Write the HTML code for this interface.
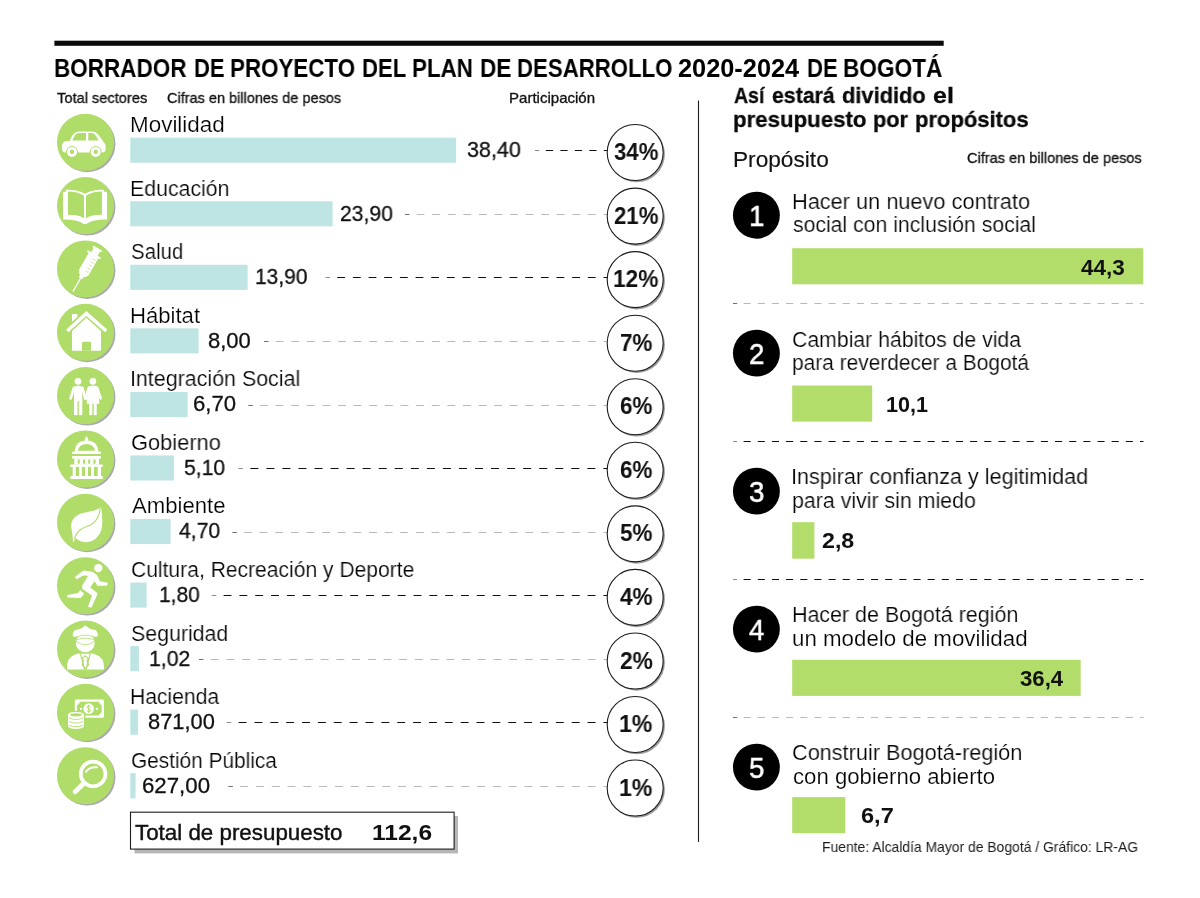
<!DOCTYPE html>
<html lang="es"><head><meta charset="utf-8"><title>Plan de Desarrollo Bogotá 2020-2024</title>
<style>
html,body{margin:0;padding:0;background:#fff}
body{width:1200px;height:898px;position:relative;overflow:hidden;font-family:"Liberation Sans",sans-serif}
.t{position:absolute;white-space:nowrap;line-height:32px;transform-origin:0 0;margin:0;will-change:transform}
#ov{position:absolute;left:0;top:0;width:1200px;height:898px}

</style></head><body>
<svg id="ov" viewBox="0 0 1200 898"><rect x="130.3" y="137.67" width="325.8" height="25.1" fill="#bee5e3"/>
<path fill="#8c8c8c" d="M535.00 150h4.22v1h-4.22z"/><path fill="#101010" d="M545.86 150h7.24v1h-7.24zM560.34 150h7.24v1h-7.24zM574.82 150h7.24v1h-7.24zM589.30 150h7.24v1h-7.24zM603.78 150h3.62v1h-3.62z"/>
<circle cx="636.70" cy="154.17" r="28.2" fill="#9b9b9b"/><circle cx="635.20" cy="152.57" r="28" fill="#fff" stroke="#1c1c1c" stroke-width="1.1"/>
<rect x="130.3" y="201.22" width="202.3" height="25.1" fill="#bee5e3"/>
<path fill="#707070" d="M405.00 214h4.49v1h-4.49z"/><path fill="#b9b9b9" d="M416.68 214h7.78v1h-7.78zM432.25 214h7.78v1h-7.78zM447.82 214h7.78v1h-7.78zM463.38 214h7.78v1h-7.78zM478.95 214h7.78v1h-7.78zM494.52 214h7.78v1h-7.78zM510.09 214h7.78v1h-7.78zM525.66 214h7.78v1h-7.78zM541.23 214h7.78v1h-7.78zM556.80 214h7.78v1h-7.78zM572.37 214h7.78v1h-7.78zM587.94 214h7.78v1h-7.78zM603.51 214h3.89v1h-3.89z"/>
<circle cx="636.70" cy="217.72" r="28.2" fill="#9b9b9b"/><circle cx="635.20" cy="216.12" r="28" fill="#fff" stroke="#1c1c1c" stroke-width="1.1"/>
<rect x="130.3" y="264.77" width="117.3" height="25.1" fill="#bee5e3"/>
<path fill="#8c8c8c" d="M325.50 277h4.52v1h-4.52z"/><path fill="#101010" d="M337.25 277h7.83v1h-7.83zM352.91 277h7.83v1h-7.83zM368.57 277h7.83v1h-7.83zM384.23 277h7.83v1h-7.83zM399.89 277h7.83v1h-7.83zM415.55 277h7.83v1h-7.83zM431.21 277h7.83v1h-7.83zM446.87 277h7.83v1h-7.83zM462.53 277h7.83v1h-7.83zM478.20 277h7.83v1h-7.83zM493.86 277h7.83v1h-7.83zM509.52 277h7.83v1h-7.83zM525.18 277h7.83v1h-7.83zM540.84 277h7.83v1h-7.83zM556.50 277h7.83v1h-7.83zM572.16 277h7.83v1h-7.83zM587.82 277h7.83v1h-7.83zM603.48 277h3.92v1h-3.92z"/>
<circle cx="636.70" cy="281.27" r="28.2" fill="#9b9b9b"/><circle cx="635.20" cy="279.67" r="28" fill="#fff" stroke="#1c1c1c" stroke-width="1.1"/>
<rect x="130.3" y="328.32" width="68.3" height="25.1" fill="#bee5e3"/>
<path fill="#707070" d="M264.00 341h4.50v1h-4.50z"/><path fill="#b9b9b9" d="M275.71 341h7.80v1h-7.80zM291.32 341h7.80v1h-7.80zM306.93 341h7.80v1h-7.80zM322.53 341h7.80v1h-7.80zM338.14 341h7.80v1h-7.80zM353.75 341h7.80v1h-7.80zM369.36 341h7.80v1h-7.80zM384.97 341h7.80v1h-7.80zM400.58 341h7.80v1h-7.80zM416.19 341h7.80v1h-7.80zM431.80 341h7.80v1h-7.80zM447.41 341h7.80v1h-7.80zM463.02 341h7.80v1h-7.80zM478.62 341h7.80v1h-7.80zM494.23 341h7.80v1h-7.80zM509.84 341h7.80v1h-7.80zM525.45 341h7.80v1h-7.80zM541.06 341h7.80v1h-7.80zM556.67 341h7.80v1h-7.80zM572.28 341h7.80v1h-7.80zM587.89 341h7.80v1h-7.80zM603.50 341h3.90v1h-3.90z"/>
<circle cx="636.70" cy="344.82" r="28.2" fill="#9b9b9b"/><circle cx="635.20" cy="343.22" r="28" fill="#fff" stroke="#1c1c1c" stroke-width="1.1"/>
<rect x="130.3" y="391.87" width="57.3" height="25.1" fill="#bee5e3"/>
<path fill="#707070" d="M248.30 405h4.50v1h-4.50z"/><path fill="#b9b9b9" d="M260.01 405h7.81v1h-7.81zM275.62 405h7.81v1h-7.81zM291.24 405h7.81v1h-7.81zM306.85 405h7.81v1h-7.81zM322.46 405h7.81v1h-7.81zM338.08 405h7.81v1h-7.81zM353.69 405h7.81v1h-7.81zM369.30 405h7.81v1h-7.81zM384.91 405h7.81v1h-7.81zM400.53 405h7.81v1h-7.81zM416.14 405h7.81v1h-7.81zM431.75 405h7.81v1h-7.81zM447.37 405h7.81v1h-7.81zM462.98 405h7.81v1h-7.81zM478.59 405h7.81v1h-7.81zM494.21 405h7.81v1h-7.81zM509.82 405h7.81v1h-7.81zM525.43 405h7.81v1h-7.81zM541.04 405h7.81v1h-7.81zM556.66 405h7.81v1h-7.81zM572.27 405h7.81v1h-7.81zM587.88 405h7.81v1h-7.81zM603.50 405h3.90v1h-3.90z"/>
<circle cx="636.70" cy="408.37" r="28.2" fill="#9b9b9b"/><circle cx="635.20" cy="406.77" r="28" fill="#fff" stroke="#1c1c1c" stroke-width="1.1"/>
<rect x="130.3" y="455.42" width="43.6" height="25.1" fill="#bee5e3"/>
<path fill="#8c8c8c" d="M238.30 468h4.61v1h-4.61z"/><path fill="#101010" d="M250.34 468h8.02v1h-8.02zM266.38 468h8.02v1h-8.02zM282.43 468h8.02v1h-8.02zM298.48 468h8.02v1h-8.02zM314.53 468h8.02v1h-8.02zM330.57 468h8.02v1h-8.02zM346.62 468h8.02v1h-8.02zM362.67 468h8.02v1h-8.02zM378.72 468h8.02v1h-8.02zM394.77 468h8.02v1h-8.02zM410.81 468h8.02v1h-8.02zM426.86 468h8.02v1h-8.02zM442.91 468h8.02v1h-8.02zM458.96 468h8.02v1h-8.02zM475.01 468h8.02v1h-8.02zM491.05 468h8.02v1h-8.02zM507.10 468h8.02v1h-8.02zM523.15 468h8.02v1h-8.02zM539.20 468h8.02v1h-8.02zM555.24 468h8.02v1h-8.02zM571.29 468h8.02v1h-8.02zM587.34 468h8.02v1h-8.02zM603.39 468h4.01v1h-4.01z"/>
<circle cx="636.70" cy="471.92" r="28.2" fill="#9b9b9b"/><circle cx="635.20" cy="470.32" r="28" fill="#fff" stroke="#1c1c1c" stroke-width="1.1"/>
<rect x="130.3" y="518.97" width="40.3" height="25.1" fill="#bee5e3"/>
<path fill="#707070" d="M232.30 532h4.51v1h-4.51z"/><path fill="#b9b9b9" d="M244.02 532h7.81v1h-7.81zM259.65 532h7.81v1h-7.81zM275.28 532h7.81v1h-7.81zM290.91 532h7.81v1h-7.81zM306.54 532h7.81v1h-7.81zM322.17 532h7.81v1h-7.81zM337.80 532h7.81v1h-7.81zM353.43 532h7.81v1h-7.81zM369.06 532h7.81v1h-7.81zM384.68 532h7.81v1h-7.81zM400.31 532h7.81v1h-7.81zM415.94 532h7.81v1h-7.81zM431.57 532h7.81v1h-7.81zM447.20 532h7.81v1h-7.81zM462.83 532h7.81v1h-7.81zM478.46 532h7.81v1h-7.81zM494.09 532h7.81v1h-7.81zM509.72 532h7.81v1h-7.81zM525.35 532h7.81v1h-7.81zM540.98 532h7.81v1h-7.81zM556.61 532h7.81v1h-7.81zM572.23 532h7.81v1h-7.81zM587.86 532h7.81v1h-7.81zM603.49 532h3.91v1h-3.91z"/>
<circle cx="636.70" cy="535.47" r="28.2" fill="#9b9b9b"/><circle cx="635.20" cy="533.87" r="28" fill="#fff" stroke="#1c1c1c" stroke-width="1.1"/>
<rect x="130.3" y="582.52" width="16.3" height="25.1" fill="#bee5e3"/>
<path fill="#8c8c8c" d="M211.70 595h4.56v1h-4.56z"/><path fill="#101010" d="M223.57 595h7.91v1h-7.91zM239.40 595h7.91v1h-7.91zM255.23 595h7.91v1h-7.91zM271.06 595h7.91v1h-7.91zM286.88 595h7.91v1h-7.91zM302.71 595h7.91v1h-7.91zM318.54 595h7.91v1h-7.91zM334.37 595h7.91v1h-7.91zM350.19 595h7.91v1h-7.91zM366.02 595h7.91v1h-7.91zM381.85 595h7.91v1h-7.91zM397.68 595h7.91v1h-7.91zM413.51 595h7.91v1h-7.91zM429.33 595h7.91v1h-7.91zM445.16 595h7.91v1h-7.91zM460.99 595h7.91v1h-7.91zM476.82 595h7.91v1h-7.91zM492.65 595h7.91v1h-7.91zM508.48 595h7.91v1h-7.91zM524.30 595h7.91v1h-7.91zM540.13 595h7.91v1h-7.91zM555.96 595h7.91v1h-7.91zM571.79 595h7.91v1h-7.91zM587.61 595h7.91v1h-7.91zM603.44 595h3.96v1h-3.96z"/>
<circle cx="636.70" cy="599.02" r="28.2" fill="#9b9b9b"/><circle cx="635.20" cy="597.42" r="28" fill="#fff" stroke="#1c1c1c" stroke-width="1.1"/>
<rect x="130.3" y="646.07" width="8.6" height="25.1" fill="#bee5e3"/>
<path fill="#707070" d="M199.00 659h4.53v1h-4.53z"/><path fill="#b9b9b9" d="M210.78 659h7.85v1h-7.85zM226.49 659h7.85v1h-7.85zM242.20 659h7.85v1h-7.85zM257.90 659h7.85v1h-7.85zM273.61 659h7.85v1h-7.85zM289.32 659h7.85v1h-7.85zM305.03 659h7.85v1h-7.85zM320.73 659h7.85v1h-7.85zM336.44 659h7.85v1h-7.85zM352.15 659h7.85v1h-7.85zM367.86 659h7.85v1h-7.85zM383.57 659h7.85v1h-7.85zM399.27 659h7.85v1h-7.85zM414.98 659h7.85v1h-7.85zM430.69 659h7.85v1h-7.85zM446.40 659h7.85v1h-7.85zM462.10 659h7.85v1h-7.85zM477.81 659h7.85v1h-7.85zM493.52 659h7.85v1h-7.85zM509.23 659h7.85v1h-7.85zM524.93 659h7.85v1h-7.85zM540.64 659h7.85v1h-7.85zM556.35 659h7.85v1h-7.85zM572.06 659h7.85v1h-7.85zM587.77 659h7.85v1h-7.85zM603.47 659h3.93v1h-3.93z"/>
<circle cx="636.70" cy="662.57" r="28.2" fill="#9b9b9b"/><circle cx="635.20" cy="660.97" r="28" fill="#fff" stroke="#1c1c1c" stroke-width="1.1"/>
<rect x="130.3" y="709.62" width="7.8" height="25.1" fill="#bee5e3"/>
<path fill="#8c8c8c" d="M226.70 722h4.57v1h-4.57z"/><path fill="#101010" d="M238.60 722h7.93v1h-7.93zM254.46 722h7.93v1h-7.93zM270.32 722h7.93v1h-7.93zM286.18 722h7.93v1h-7.93zM302.05 722h7.93v1h-7.93zM317.91 722h7.93v1h-7.93zM333.77 722h7.93v1h-7.93zM349.63 722h7.93v1h-7.93zM365.50 722h7.93v1h-7.93zM381.36 722h7.93v1h-7.93zM397.22 722h7.93v1h-7.93zM413.08 722h7.93v1h-7.93zM428.95 722h7.93v1h-7.93zM444.81 722h7.93v1h-7.93zM460.67 722h7.93v1h-7.93zM476.53 722h7.93v1h-7.93zM492.40 722h7.93v1h-7.93zM508.26 722h7.93v1h-7.93zM524.12 722h7.93v1h-7.93zM539.98 722h7.93v1h-7.93zM555.85 722h7.93v1h-7.93zM571.71 722h7.93v1h-7.93zM587.57 722h7.93v1h-7.93zM603.43 722h3.97v1h-3.97z"/>
<circle cx="636.70" cy="726.12" r="28.2" fill="#9b9b9b"/><circle cx="635.20" cy="724.52" r="28" fill="#fff" stroke="#1c1c1c" stroke-width="1.1"/>
<rect x="130.3" y="773.17" width="5.3" height="25.1" fill="#bee5e3"/>
<path fill="#707070" d="M228.30 786h4.55v1h-4.55z"/><path fill="#b9b9b9" d="M240.15 786h7.90v1h-7.90zM255.94 786h7.90v1h-7.90zM271.74 786h7.90v1h-7.90zM287.53 786h7.90v1h-7.90zM303.33 786h7.90v1h-7.90zM319.13 786h7.90v1h-7.90zM334.92 786h7.90v1h-7.90zM350.72 786h7.90v1h-7.90zM366.51 786h7.90v1h-7.90zM382.31 786h7.90v1h-7.90zM398.11 786h7.90v1h-7.90zM413.90 786h7.90v1h-7.90zM429.70 786h7.90v1h-7.90zM445.49 786h7.90v1h-7.90zM461.29 786h7.90v1h-7.90zM477.08 786h7.90v1h-7.90zM492.88 786h7.90v1h-7.90zM508.68 786h7.90v1h-7.90zM524.47 786h7.90v1h-7.90zM540.27 786h7.90v1h-7.90zM556.06 786h7.90v1h-7.90zM571.86 786h7.90v1h-7.90zM587.66 786h7.90v1h-7.90zM603.45 786h3.95v1h-3.95z"/>
<circle cx="636.70" cy="789.67" r="28.2" fill="#9b9b9b"/><circle cx="635.20" cy="788.07" r="28" fill="#fff" stroke="#1c1c1c" stroke-width="1.1"/>
<circle cx="756.4" cy="215.20" r="23.45" fill="#000"/>
<rect x="792.2" y="248.20" width="351.1" height="36.10" fill="#b2dd6b"/>
<path fill="#707070" d="M733.00 303h4.14v1h-4.14z"/><path fill="#b9b9b9" d="M743.62 303h7.08v1h-7.08zM757.77 303h7.08v1h-7.08zM771.93 303h7.08v1h-7.08zM786.08 303h7.08v1h-7.08zM800.24 303h7.08v1h-7.08zM814.39 303h7.08v1h-7.08zM828.55 303h7.08v1h-7.08zM842.70 303h7.08v1h-7.08zM856.86 303h7.08v1h-7.08zM871.01 303h7.08v1h-7.08zM885.17 303h7.08v1h-7.08zM899.32 303h7.08v1h-7.08zM913.48 303h7.08v1h-7.08zM927.63 303h7.08v1h-7.08zM941.79 303h7.08v1h-7.08zM955.94 303h7.08v1h-7.08zM970.10 303h7.08v1h-7.08zM984.25 303h7.08v1h-7.08zM998.41 303h7.08v1h-7.08zM1012.56 303h7.08v1h-7.08zM1026.72 303h7.08v1h-7.08zM1040.88 303h7.08v1h-7.08zM1055.03 303h7.08v1h-7.08zM1069.19 303h7.08v1h-7.08zM1083.34 303h7.08v1h-7.08zM1097.50 303h7.08v1h-7.08zM1111.65 303h7.08v1h-7.08zM1125.81 303h7.08v1h-7.08zM1139.96 303h3.54v1h-3.54z"/>
<circle cx="756.4" cy="353.16" r="23.45" fill="#000"/>
<rect x="792.2" y="385.50" width="80.0" height="36.10" fill="#b2dd6b"/>
<path fill="#8c8c8c" d="M733.00 441h4.14v1h-4.14z"/><path fill="#101010" d="M743.62 441h7.08v1h-7.08zM757.77 441h7.08v1h-7.08zM771.93 441h7.08v1h-7.08zM786.08 441h7.08v1h-7.08zM800.24 441h7.08v1h-7.08zM814.39 441h7.08v1h-7.08zM828.55 441h7.08v1h-7.08zM842.70 441h7.08v1h-7.08zM856.86 441h7.08v1h-7.08zM871.01 441h7.08v1h-7.08zM885.17 441h7.08v1h-7.08zM899.32 441h7.08v1h-7.08zM913.48 441h7.08v1h-7.08zM927.63 441h7.08v1h-7.08zM941.79 441h7.08v1h-7.08zM955.94 441h7.08v1h-7.08zM970.10 441h7.08v1h-7.08zM984.25 441h7.08v1h-7.08zM998.41 441h7.08v1h-7.08zM1012.56 441h7.08v1h-7.08zM1026.72 441h7.08v1h-7.08zM1040.88 441h7.08v1h-7.08zM1055.03 441h7.08v1h-7.08zM1069.19 441h7.08v1h-7.08zM1083.34 441h7.08v1h-7.08zM1097.50 441h7.08v1h-7.08zM1111.65 441h7.08v1h-7.08zM1125.81 441h7.08v1h-7.08zM1139.96 441h3.54v1h-3.54z"/>
<circle cx="756.4" cy="491.16" r="23.45" fill="#000"/>
<rect x="792.2" y="522.20" width="22.2" height="36.50" fill="#b2dd6b"/>
<path fill="#8c8c8c" d="M733.00 579h4.14v1h-4.14z"/><path fill="#101010" d="M743.62 579h7.08v1h-7.08zM757.77 579h7.08v1h-7.08zM771.93 579h7.08v1h-7.08zM786.08 579h7.08v1h-7.08zM800.24 579h7.08v1h-7.08zM814.39 579h7.08v1h-7.08zM828.55 579h7.08v1h-7.08zM842.70 579h7.08v1h-7.08zM856.86 579h7.08v1h-7.08zM871.01 579h7.08v1h-7.08zM885.17 579h7.08v1h-7.08zM899.32 579h7.08v1h-7.08zM913.48 579h7.08v1h-7.08zM927.63 579h7.08v1h-7.08zM941.79 579h7.08v1h-7.08zM955.94 579h7.08v1h-7.08zM970.10 579h7.08v1h-7.08zM984.25 579h7.08v1h-7.08zM998.41 579h7.08v1h-7.08zM1012.56 579h7.08v1h-7.08zM1026.72 579h7.08v1h-7.08zM1040.88 579h7.08v1h-7.08zM1055.03 579h7.08v1h-7.08zM1069.19 579h7.08v1h-7.08zM1083.34 579h7.08v1h-7.08zM1097.50 579h7.08v1h-7.08zM1111.65 579h7.08v1h-7.08zM1125.81 579h7.08v1h-7.08zM1139.96 579h3.54v1h-3.54z"/>
<circle cx="756.4" cy="629.10" r="23.45" fill="#000"/>
<rect x="792.2" y="659.80" width="288.5" height="36.10" fill="#b2dd6b"/>
<path fill="#707070" d="M733.00 717h4.14v1h-4.14z"/><path fill="#b9b9b9" d="M743.62 717h7.08v1h-7.08zM757.77 717h7.08v1h-7.08zM771.93 717h7.08v1h-7.08zM786.08 717h7.08v1h-7.08zM800.24 717h7.08v1h-7.08zM814.39 717h7.08v1h-7.08zM828.55 717h7.08v1h-7.08zM842.70 717h7.08v1h-7.08zM856.86 717h7.08v1h-7.08zM871.01 717h7.08v1h-7.08zM885.17 717h7.08v1h-7.08zM899.32 717h7.08v1h-7.08zM913.48 717h7.08v1h-7.08zM927.63 717h7.08v1h-7.08zM941.79 717h7.08v1h-7.08zM955.94 717h7.08v1h-7.08zM970.10 717h7.08v1h-7.08zM984.25 717h7.08v1h-7.08zM998.41 717h7.08v1h-7.08zM1012.56 717h7.08v1h-7.08zM1026.72 717h7.08v1h-7.08zM1040.88 717h7.08v1h-7.08zM1055.03 717h7.08v1h-7.08zM1069.19 717h7.08v1h-7.08zM1083.34 717h7.08v1h-7.08zM1097.50 717h7.08v1h-7.08zM1111.65 717h7.08v1h-7.08zM1125.81 717h7.08v1h-7.08zM1139.96 717h3.54v1h-3.54z"/>
<circle cx="756.4" cy="767.10" r="23.45" fill="#000"/>
<rect x="792.2" y="797.10" width="53.1" height="36.10" fill="#b2dd6b"/>
<rect x="54.4" y="40.7" width="889.3" height="5.1" fill="#0a0a0a"/>
<rect x="134.5" y="816" width="323.5" height="37.4" fill="#b7b7b7"/><rect x="130.5" y="812.2" width="323.6" height="36.9" fill="#fff" stroke="#1c1c1c" stroke-width="1.1"/>
<line x1="698.5" y1="100.5" x2="698.5" y2="842" stroke="#1c1c1c" stroke-width="1.1"/>
<g transform="translate(57 113.80)"><circle cx="30.15" cy="30.1" r="28.3" fill="#a9a9ae"/><circle cx="28.5" cy="28.5" r="28.55" fill="#b0dc6a"/><path fill="#fff" d="M5 33Q5 27.6 9.5 27.3L12.7 27.1Q15 21 18 19Q20 17.6 23 17.6H34.5Q38 17.6 40.5 20Q43.5 23.5 46.3 27.8Q48.7 30 48.7 33.5V35Q48.7 38.8 45 38.8H8.5Q5 38.8 5 35Z"/>
<path fill="#b0dc6a" d="M15.3 26.8Q17.5 21.5 19.5 20Q20.8 19.1 22.5 19.1H29V26.8ZM31.3 19.1H34.5Q36.8 19.2 38.3 21.3Q40.3 24 41.7 26.8H31.3Z"/>
<circle cx="15" cy="38.1" r="6" fill="#b0dc6a"/><circle cx="15" cy="38.1" r="5" fill="#fff"/><circle cx="15" cy="38.1" r="2.15" fill="#b0dc6a"/>
<circle cx="38.7" cy="38.1" r="6" fill="#b0dc6a"/><circle cx="38.7" cy="38.1" r="5" fill="#fff"/><circle cx="38.7" cy="38.1" r="2.15" fill="#b0dc6a"/></g>
<g transform="translate(57 177.14)"><circle cx="30.15" cy="30.1" r="28.3" fill="#a9a9ae"/><circle cx="28.5" cy="28.5" r="28.55" fill="#b0dc6a"/><path fill="#fff" d="M6 14.7H9V12.7Q21 12.4 28 16.7Q35 12.4 46.7 12.7V14.7H50V42.4Q36 42.2 30.2 46.3Q28 47.8 25.8 46.3Q20 42.2 6 42.4Z"/>
<path fill="#b0dc6a" d="M11 14.4Q21 14.4 27 18.7V41Q21 37.6 11 37.7ZM44.9 14.4Q35 14.4 29 18.7V41Q35 37.6 44.9 37.7Z"/></g>
<g transform="translate(57 240.48)"><circle cx="30.15" cy="30.1" r="28.3" fill="#a9a9ae"/><circle cx="28.5" cy="28.5" r="28.55" fill="#b0dc6a"/><g transform="translate(16 51) rotate(29.7)" fill="#fff">
<rect x="-0.7" y="-17" width="1.4" height="17"/>
<rect x="-2.1" y="-19" width="4.2" height="3.6"/>
<path d="M-5.5 -41.8H5.5V-21.5L3.4 -18.3H-3.4L-5.5 -21.5Z"/>
<rect x="-7.6" y="-43.2" width="15.2" height="1.9" rx=".5"/>
<rect x="-3.7" y="-48.6" width="7.4" height="6"/>
<rect x="-5.2" y="-50" width="10.4" height="1.8" rx=".5"/>
<g stroke="#b0dc6a" stroke-width=".75" opacity=".85"><path d="M1 -24H4.2M1 -27.5H4.2M1 -31H4.2M1 -34.5H4.2M1 -38H4.2"/></g>
</g></g>
<g transform="translate(57 303.82)"><circle cx="30.15" cy="30.1" r="28.3" fill="#a9a9ae"/><circle cx="28.5" cy="28.5" r="28.55" fill="#b0dc6a"/><path fill="#fff" d="M29.3 7.2L50.4 25.9L48.2 28.5L29.3 12.1L11.4 28.5L9 25.9Z"/>
<path fill="#fff" d="M29.3 13.9L44 27.3V46.3Q44 46.9 43.4 46.9H15.6Q15 46.9 15 46.3V27.3Z"/>
<path fill="#b0dc6a" d="M25 46.9V39.2Q25 37.9 26.3 37.9H32.7Q34 37.9 34 39.2V46.9Z"/>
<path fill="#fff" d="M15 10.2H20.3V13.1L15 17.9Z"/></g>
<g transform="translate(57 367.16)"><circle cx="30.15" cy="30.1" r="28.3" fill="#a9a9ae"/><circle cx="28.5" cy="28.5" r="28.55" fill="#b0dc6a"/><g fill="#fff" stroke="#fff" stroke-linecap="round">
<circle cx="21" cy="14.2" r="3.35" stroke="none"/><circle cx="35.9" cy="14.2" r="3.35" stroke="none"/>
<path stroke="none" d="M17 22.2Q17 18.7 20.2 18.7H22Q25.3 18.7 25.3 22.2V34H17Z"/>
<rect stroke="none" x="17" y="33" width="3.5" height="15"/><rect stroke="none" x="21.8" y="33" width="3.5" height="15"/>
<path fill="none" stroke-width="2.7" d="M17 20.6L13.6 31.2M25.4 20.6L28.3 31.6"/>
<path stroke="none" d="M33.6 18.7H38.4Q40.6 18.7 41 21L42.4 36.7H29.6L31 21Q31.4 18.7 33.6 18.7Z"/>
<rect stroke="none" x="32.3" y="36" width="3" height="12"/><rect stroke="none" x="36.7" y="36" width="3" height="12"/>
<path fill="none" stroke-width="2.5" d="M40.3 20.6L43.6 31.2M31.6 20.6L28.4 31.6"/>
</g></g>
<g transform="translate(57 430.50)"><circle cx="30.15" cy="30.1" r="28.3" fill="#a9a9ae"/><circle cx="28.5" cy="28.5" r="28.55" fill="#b0dc6a"/><g fill="#fff">
<path d="M29.5 5.3Q31.5 8.2 31.2 10.5H27.8Q27.5 8.2 29.5 5.3Z"/>
<path d="M17.6 21.3Q18.4 9.9 29.5 9.9Q40.6 9.9 41.4 21.3Z"/>
<path fill="#b0dc6a" d="M21 20.3Q22.2 13.5 29.5 13.5Q36.8 13.5 38 20.3Z"/>
<rect x="15" y="20.9" width="29" height="2.7" rx="1.3"/>
<rect x="15" y="25.5" width="29" height="2.8" rx="1.3"/>
<rect x="17.3" y="28" width="24.7" height="6.2"/>
<g fill="#b0dc6a"><rect x="20.7" y="29" width="2" height="4.2"/><rect x="26" y="29" width="2" height="4.2"/><rect x="31.2" y="29" width="2" height="4.2"/><rect x="36.4" y="29" width="2.2" height="4.2"/></g>
<rect x="13" y="33.9" width="33" height="2.5" rx="1.2"/>
<rect x="15.7" y="36" width="28.3" height="10"/>
<g fill="#b0dc6a"><rect x="18.7" y="36.4" width="3.3" height="9.1"/><rect x="25" y="36.4" width="3" height="9.1"/><rect x="31" y="36.4" width="3" height="9.1"/><rect x="37" y="36.4" width="3.6" height="9.1"/></g>
<rect x="13" y="45.5" width="33" height="3" rx="1.4"/>
</g></g>
<g transform="translate(57 493.84)"><circle cx="30.15" cy="30.1" r="28.3" fill="#a9a9ae"/><circle cx="28.5" cy="28.5" r="28.55" fill="#b0dc6a"/><path fill="#fff" d="M44 13.1C40 17 30 18 24 19.6C17 22 13.5 28 14.3 33.5C14.6 37 15.6 40.5 15.7 44L16 48.8L18.7 44.3C22 47 26 48.5 30.3 48.3C36 48 41 44 43.7 38C46 32 45.5 22 44 13.1Z"/>
<path fill="none" stroke="#b0dc6a" stroke-width="1.1" d="M43.4 14C42.6 22 40 28 33 31.3C26 34 19.5 36 17.6 45.6"/></g>
<g transform="translate(57 557.18)"><circle cx="30.15" cy="30.1" r="28.3" fill="#a9a9ae"/><circle cx="28.5" cy="28.5" r="28.55" fill="#b0dc6a"/><g fill="#fff" stroke="#fff" stroke-width="1.6" stroke-linejoin="round">
<circle cx="41.3" cy="10.9" r="3.4"/>
<path d="M19 20L26.6 14.2L35.4 15.4L39.7 18.8L42.5 24.9L49.8 26.2L49.6 27.8L40.8 27.7L37.6 22.6L32.2 30.4L39.8 36.5L34 49.6L31.9 49L36 38.2L26 31.2L26 28.5L32.5 18.1L26.4 17.4L20 20.9Z"/>
<path d="M10.8 38.6L21.3 36.7L23.4 34L26 36.7L23.3 40L11.2 39.6Z"/>
</g></g>
<g transform="translate(57 620.52)"><circle cx="30.15" cy="30.1" r="28.3" fill="#a9a9ae"/><circle cx="28.5" cy="28.5" r="28.55" fill="#b0dc6a"/><g fill="#fff">
<circle cx="28.3" cy="22.4" r="9.4"/>
<path d="M28.3 5C29.5 5.3 31 7.6 34 8.6C37 9.4 39 9.4 40 11.2C41.3 13 40.9 15.5 40 16.3H16.6C15.7 15.5 15.3 13 16.6 11.2C17.6 9.4 19.6 9.4 22.6 8.6C25.6 7.6 27.1 5.3 28.3 5Z"/>
<path d="M21 33Q24 33.2 28.3 33.2Q32.6 33.2 35.7 33Q45 35.5 46.4 42Q47 45 47 49H10Q10 45 10.6 42Q12 35.5 21 33Z"/>
<g fill="none" stroke="#b0dc6a" stroke-width=".8">
<path d="M18.6 16.9Q28.3 12.4 38 16.9"/><path d="M19.8 19.3Q28.3 15.9 36.8 19.3"/>
<path d="M19.2 20.8Q28.3 27.8 37.4 20.8"/>
<path d="M23.4 33.4L27.6 49M33.2 33.4L29 49" stroke-width="1.15"/>
<path d="M28.3 35.3L31.4 37.8L30.1 40L31.5 44.2L28.3 48.4L25.1 44.2L26.5 40L25.2 37.8Z" stroke-width="1.1"/>
</g></g></g>
<g transform="translate(57 683.86)"><circle cx="30.15" cy="30.1" r="28.3" fill="#a9a9ae"/><circle cx="28.5" cy="28.5" r="28.55" fill="#b0dc6a"/><g fill="#fff">
<rect x="17.8" y="15.7" width="29.1" height="18.3" rx="1.4"/>
<path fill="#b0dc6a" d="M22.6 18H42.2V19.6H43.6V21.2H44.7V28.6H43.6V30.2H42.2V31.7H22.6V30.2H21.2V28.6H20V21.2H21.2V19.6H22.6Z"/>
<circle cx="31.7" cy="24.8" r="5.3"/><circle cx="24" cy="25" r="1.15"/><circle cx="40" cy="25" r="1.15"/>
<path fill="none" stroke="#b0dc6a" stroke-width=".95" d="M33.3 23.3Q33 21.9 31.7 21.9Q30 21.9 30 23.3Q30 24.4 31.7 24.8Q33.5 25.2 33.5 26.5Q33.5 27.9 31.7 27.9Q30.2 27.9 29.9 26.5M31.7 20.9V28.9"/>
<path fill="#b0dc6a" d="M9.8 31Q9.8 27 19 27Q28.2 27 28.2 31V42Q28.2 46.3 19 46.3Q9.8 46.3 9.8 42Z"/>
<path d="M11 31Q11 28.2 19 28.2Q27 28.2 27 31V42Q27 45.1 19 45.1Q11 45.1 11 42Z"/>
<ellipse cx="19" cy="31" rx="6" ry="1.55" fill="#b0dc6a"/>
<g fill="none" stroke="#b0dc6a" stroke-width=".85"><path d="M11.8 34Q19 37.3 26.2 34"/><path d="M11.8 37.6Q19 40.9 26.2 37.6"/><path d="M11.8 41.2Q19 44.5 26.2 41.2"/></g>
</g></g>
<g transform="translate(57 747.20)"><circle cx="30.15" cy="30.1" r="28.3" fill="#a9a9ae"/><circle cx="28.5" cy="28.5" r="28.55" fill="#b0dc6a"/><g fill="none" stroke="#fff" stroke-linecap="round">
<circle cx="36.1" cy="26.7" r="12.35" stroke-width="3.7"/>
<path stroke-width="4.9" d="M26.6 36.2L18.1 44.5"/>
<path stroke-width="2" d="M29.1 24.4Q32.6 19.3 39.8 20.1"/>
</g></g></svg>
<span class="t" id="t0" style="left:54.14px;top:52px;font-size:25px;transform:scaleX(0.9000);color:#000;font-weight:700">BORRADOR</span>
<span class="t" id="t1" style="left:194.08px;top:52px;font-size:25px;transform:scaleX(0.8805);color:#000;font-weight:700">DE</span>
<span class="t" id="t2" style="left:230.21px;top:52px;font-size:25px;transform:scaleX(0.8943);color:#000;font-weight:700">PROYECTO</span>
<span class="t" id="t3" style="left:361.73px;top:52px;font-size:25px;transform:scaleX(0.8855);color:#000;font-weight:700">DEL</span>
<span class="t" id="t4" style="left:412.01px;top:52px;font-size:25px;transform:scaleX(0.8939);color:#000;font-weight:700">PLAN</span>
<span class="t" id="t5" style="left:480.35px;top:52px;font-size:25px;transform:scaleX(0.9044);color:#000;font-weight:700">DE</span>
<span class="t" id="t6" style="left:517.43px;top:52px;font-size:25px;transform:scaleX(0.8884);color:#000;font-weight:700">DESARROLLO</span>
<span class="t" id="t7" style="left:678.49px;top:52px;font-size:25px;transform:scaleX(1.0134);color:#000;font-weight:700">2020-2024</span>
<span class="t" id="t8" style="left:806.73px;top:52px;font-size:25px;transform:scaleX(0.8872);color:#000;font-weight:700">DE</span>
<span class="t" id="t9" style="left:843.10px;top:52px;font-size:25px;transform:scaleX(0.9046);color:#000;font-weight:700">BOGOTÁ</span>
<span class="t" id="t10" style="left:57.07px;top:82px;font-size:14.8px;transform:scaleX(0.9884);color:#111;-webkit-text-stroke:0.32px #111">Total sectores</span>
<span class="t" id="t11" style="left:166.75px;top:82px;font-size:14.8px;transform:scaleX(0.9800);color:#111;-webkit-text-stroke:0.32px #111">Cifras en billones de pesos</span>
<span class="t" id="t12" style="left:508.70px;top:82px;font-size:14.8px;transform:scaleX(1.0161);color:#111;-webkit-text-stroke:0.32px #111">Participación</span>
<span class="t" id="t13" style="left:130.43px;top:109px;font-size:22px;transform:scaleX(1.0198);color:#000;-webkit-text-stroke:0.2px #fff">Movilidad</span>
<span class="t" id="t14" style="left:466.57px;top:134px;font-size:21.8px;transform:scaleX(0.9867);color:#111;-webkit-text-stroke:0.3px #111">38,40</span>
<span class="t" id="t15" style="left:613.80px;top:136px;font-size:23.6px;transform:scaleX(0.9412);color:#111;font-weight:700">34%</span>
<span class="t" id="t16" style="left:130.12px;top:173px;font-size:22px;transform:scaleX(0.9674);color:#000;-webkit-text-stroke:0.2px #fff">Educación</span>
<span class="t" id="t17" style="left:339.97px;top:198px;font-size:21.8px;transform:scaleX(0.9697);color:#111;-webkit-text-stroke:0.3px #111">23,90</span>
<span class="t" id="t18" style="left:613.75px;top:200px;font-size:23.6px;transform:scaleX(0.9423);color:#111;font-weight:700">21%</span>
<span class="t" id="t19" style="left:130.59px;top:236px;font-size:22px;transform:scaleX(0.9304);color:#000;-webkit-text-stroke:0.2px #fff">Salud</span>
<span class="t" id="t20" style="left:254.74px;top:261px;font-size:21.8px;transform:scaleX(0.9615);color:#111;-webkit-text-stroke:0.3px #111">13,90</span>
<span class="t" id="t21" style="left:613.12px;top:263px;font-size:23.6px;transform:scaleX(0.9619);color:#111;font-weight:700">12%</span>
<span class="t" id="t22" style="left:130.04px;top:300px;font-size:22px;transform:scaleX(1.0050);color:#000;-webkit-text-stroke:0.2px #fff">Hábitat</span>
<span class="t" id="t23" style="left:207.68px;top:325px;font-size:21.8px;transform:scaleX(1.0087);color:#111;-webkit-text-stroke:0.3px #111">8,00</span>
<span class="t" id="t24" style="left:619.60px;top:327px;font-size:23.6px;transform:scaleX(0.9510);color:#111;font-weight:700">7%</span>
<span class="t" id="t25" style="left:130.23px;top:363px;font-size:22px;transform:scaleX(0.9735);color:#000;-webkit-text-stroke:0.2px #fff">Integración Social</span>
<span class="t" id="t26" style="left:192.89px;top:388px;font-size:21.8px;transform:scaleX(1.0144);color:#111;-webkit-text-stroke:0.3px #111">6,70</span>
<span class="t" id="t27" style="left:619.53px;top:390px;font-size:23.6px;transform:scaleX(0.9523);color:#111;font-weight:700">6%</span>
<span class="t" id="t28" style="left:130.72px;top:427px;font-size:22px;transform:scaleX(0.9933);color:#000;-webkit-text-stroke:0.2px #fff">Gobierno</span>
<span class="t" id="t29" style="left:183.93px;top:452px;font-size:21.8px;transform:scaleX(0.9693);color:#111;-webkit-text-stroke:0.3px #111">5,10</span>
<span class="t" id="t30" style="left:619.53px;top:454px;font-size:23.6px;transform:scaleX(0.9523);color:#111;font-weight:700">6%</span>
<span class="t" id="t31" style="left:131.79px;top:490px;font-size:22px;transform:scaleX(1.0067);color:#000;-webkit-text-stroke:0.2px #fff">Ambiente</span>
<span class="t" id="t32" style="left:178.73px;top:515px;font-size:21.8px;transform:scaleX(0.9705);color:#111;-webkit-text-stroke:0.3px #111">4,70</span>
<span class="t" id="t33" style="left:619.50px;top:517px;font-size:23.6px;transform:scaleX(0.9534);color:#111;font-weight:700">5%</span>
<span class="t" id="t34" style="left:131.01px;top:554px;font-size:22px;transform:scaleX(0.9574);color:#000;-webkit-text-stroke:0.2px #fff">Cultura, Recreación y Deporte</span>
<span class="t" id="t35" style="left:159.10px;top:579px;font-size:21.8px;transform:scaleX(0.9617);color:#111;-webkit-text-stroke:0.3px #111">1,80</span>
<span class="t" id="t36" style="left:620.22px;top:581px;font-size:23.6px;transform:scaleX(0.9570);color:#111;font-weight:700">4%</span>
<span class="t" id="t37" style="left:130.99px;top:618px;font-size:22px;transform:scaleX(0.9701);color:#000;-webkit-text-stroke:0.2px #fff">Seguridad</span>
<span class="t" id="t38" style="left:148.73px;top:643px;font-size:21.8px;transform:scaleX(0.9732);color:#111;-webkit-text-stroke:0.3px #111">1,02</span>
<span class="t" id="t39" style="left:620.00px;top:645px;font-size:23.6px;transform:scaleX(0.9656);color:#111;font-weight:700">2%</span>
<span class="t" id="t40" style="left:130.24px;top:681px;font-size:22px;transform:scaleX(0.9586);color:#000;-webkit-text-stroke:0.2px #fff">Hacienda</span>
<span class="t" id="t41" style="left:147.92px;top:706px;font-size:21.8px;transform:scaleX(1.0023);color:#111;-webkit-text-stroke:0.3px #111">871,00</span>
<span class="t" id="t42" style="left:619.01px;top:708px;font-size:23.6px;transform:scaleX(0.9805);color:#111;font-weight:700">1%</span>
<span class="t" id="t43" style="left:131.04px;top:745px;font-size:22px;transform:scaleX(0.9472);color:#000;-webkit-text-stroke:0.2px #fff">Gestión Pública</span>
<span class="t" id="t44" style="left:142.10px;top:770px;font-size:21.8px;transform:scaleX(1.0207);color:#111;-webkit-text-stroke:0.3px #111">627,00</span>
<span class="t" id="t45" style="left:619.01px;top:772px;font-size:23.6px;transform:scaleX(0.9805);color:#111;font-weight:700">1%</span>
<span class="t" id="t46" style="left:135.06px;top:817px;font-size:21.6px;transform:scaleX(1.0350);color:#111;-webkit-text-stroke:0.4px #111">Total de presupuesto</span>
<span class="t" id="t47" style="left:372.32px;top:817px;font-size:21.6px;transform:scaleX(1.1361);color:#111;font-weight:700">112,6</span>
<span class="t" id="t48" style="left:733.83px;top:80px;font-size:22.6px;transform:scaleX(0.8639);color:#0a0a0a;font-weight:700;-webkit-text-stroke:0.3px #0a0a0a">Así</span>
<span class="t" id="t49" style="left:772.28px;top:80px;font-size:22.6px;transform:scaleX(0.9417);color:#0a0a0a;font-weight:700;-webkit-text-stroke:0.3px #0a0a0a">estará</span>
<span class="t" id="t50" style="left:841.84px;top:80px;font-size:22.6px;transform:scaleX(0.9663);color:#0a0a0a;font-weight:700;-webkit-text-stroke:0.3px #0a0a0a">dividido</span>
<span class="t" id="t51" style="left:933.18px;top:80px;font-size:22.6px;transform:scaleX(1.1053);color:#0a0a0a;font-weight:700;-webkit-text-stroke:0.3px #0a0a0a">el</span>
<span class="t" id="t52" style="left:733.39px;top:104px;font-size:22.6px;transform:scaleX(0.9843);color:#0a0a0a;font-weight:700;-webkit-text-stroke:0.3px #0a0a0a">presupuesto</span>
<span class="t" id="t53" style="left:873.29px;top:104px;font-size:22.6px;transform:scaleX(0.9627);color:#0a0a0a;font-weight:700;-webkit-text-stroke:0.3px #0a0a0a">por</span>
<span class="t" id="t54" style="left:914.73px;top:104px;font-size:22.6px;transform:scaleX(0.9734);color:#0a0a0a;font-weight:700;-webkit-text-stroke:0.3px #0a0a0a">propósitos</span>
<span class="t" id="t55" style="left:733.34px;top:144px;font-size:21.6px;transform:scaleX(1.0495);color:#111;-webkit-text-stroke:0.15px #111">Propósito</span>
<span class="t" id="t56" style="left:966.60px;top:142px;font-size:14.8px;transform:scaleX(0.9835);color:#111;-webkit-text-stroke:0.32px #111">Cifras en billones de pesos</span>
<span class="t" id="t57" style="left:748.73px;top:200px;font-size:30px;transform:scaleX(0.9200);color:#fff;-webkit-text-stroke:0.5px #fff">1</span>
<span class="t" id="t58" style="left:791.55px;top:186px;font-size:22px;transform:scaleX(0.9884);color:#000;-webkit-text-stroke:0.2px #fff">Hacer un nuevo contrato</span>
<span class="t" id="t59" style="left:792.60px;top:209px;font-size:22px;transform:scaleX(0.9644);color:#000;-webkit-text-stroke:0.2px #fff">social con inclusión social</span>
<span class="t" id="t60" style="left:1080.75px;top:252px;font-size:21.4px;transform:scaleX(1.0509);color:#111;font-weight:700">44,3</span>
<span class="t" id="t61" style="left:748.73px;top:338px;font-size:30px;transform:scaleX(0.9200);color:#fff;-webkit-text-stroke:0.5px #fff">2</span>
<span class="t" id="t62" style="left:791.99px;top:324px;font-size:22px;transform:scaleX(0.9653);color:#000;-webkit-text-stroke:0.2px #fff">Cambiar hábitos de vida</span>
<span class="t" id="t63" style="left:792.09px;top:347px;font-size:22px;transform:scaleX(0.9498);color:#000;-webkit-text-stroke:0.2px #fff">para reverdecer a Bogotá</span>
<span class="t" id="t64" style="left:885.71px;top:389px;font-size:21.4px;transform:scaleX(1.0089);color:#111;font-weight:700">10,1</span>
<span class="t" id="t65" style="left:748.73px;top:476px;font-size:30px;transform:scaleX(0.9200);color:#fff;-webkit-text-stroke:0.5px #fff">3</span>
<span class="t" id="t66" style="left:791.30px;top:461px;font-size:22px;transform:scaleX(0.9842);color:#000;-webkit-text-stroke:0.2px #fff">Inspirar confianza y legitimidad</span>
<span class="t" id="t67" style="left:791.94px;top:485px;font-size:22px;transform:scaleX(0.9702);color:#000;-webkit-text-stroke:0.2px #fff">para vivir sin miedo</span>
<span class="t" id="t68" style="left:822.37px;top:525px;font-size:21.4px;transform:scaleX(1.0829);color:#111;font-weight:700">2,8</span>
<span class="t" id="t69" style="left:748.73px;top:614px;font-size:30px;transform:scaleX(0.9200);color:#fff;-webkit-text-stroke:0.5px #fff">4</span>
<span class="t" id="t70" style="left:791.75px;top:599px;font-size:22px;transform:scaleX(0.9737);color:#000;-webkit-text-stroke:0.2px #fff">Hacer de Bogotá región</span>
<span class="t" id="t71" style="left:791.90px;top:623px;font-size:22px;transform:scaleX(1.0138);color:#000;-webkit-text-stroke:0.2px #fff">un modelo de movilidad</span>
<span class="t" id="t72" style="left:1019.99px;top:663px;font-size:21.4px;transform:scaleX(1.0383);color:#111;font-weight:700">36,4</span>
<span class="t" id="t73" style="left:748.73px;top:752px;font-size:30px;transform:scaleX(0.9200);color:#fff;-webkit-text-stroke:0.5px #fff">5</span>
<span class="t" id="t74" style="left:791.95px;top:737px;font-size:22px;transform:scaleX(0.9863);color:#000;-webkit-text-stroke:0.2px #fff">Construir Bogotá-región</span>
<span class="t" id="t75" style="left:792.52px;top:761px;font-size:22px;transform:scaleX(1.0073);color:#000;-webkit-text-stroke:0.2px #fff">con gobierno abierto</span>
<span class="t" id="t76" style="left:861.39px;top:800px;font-size:21.4px;transform:scaleX(1.1008);color:#111;font-weight:700">6,7</span>
<span class="t" id="t77" style="left:821.75px;top:831px;font-size:14.6px;transform:scaleX(0.9525);color:#1a1a1a">Fuente: Alcaldía Mayor de Bogotá / Gráfico: LR-AG</span>
</body></html>
